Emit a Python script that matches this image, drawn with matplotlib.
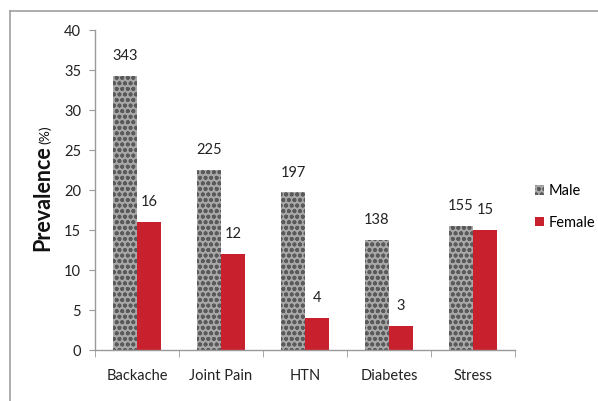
import matplotlib
matplotlib.use("Agg")
import matplotlib.pyplot as plt
import numpy as np
from matplotlib.lines import Line2D

categories = ["Backache", "Joint Pain", "HTN", "Diabetes", "Stress"]
male_pct = [34.3, 22.5, 19.7, 13.8, 15.5]
female_pct = [16, 12, 4, 3, 15]
male_labels = ["343", "225", "197", "138", "155"]
female_labels = ["16", "12", "4", "3", "15"]
yticks = [0, 5, 10, 15, 20, 25, 30, 35, 40]

plt.rcParams['font.family'] = ['Lato', 'DejaVu Sans']
plt.rcParams['hatch.linewidth'] = 1.2

fig = plt.figure(figsize=(5.98, 4.01), dpi=100)
ax = fig.add_axes([95/598, 1-350/401, 420/598, 320/401])

x = np.arange(len(categories))
w = 0.286
mb = ax.bar(x - w/2, male_pct, w, color='#a8a8a8', hatch='ooo', edgecolor='#5a5a5a', linewidth=0)
fb = ax.bar(x + w/2, female_pct, w, color='#c8202c', linewidth=0)

for xi, v, lab in zip(x - w/2, male_pct, male_labels):
    ax.annotate(lab, (xi, v), xytext=(0, 9), textcoords='offset points',
                ha='center', va='bottom', fontsize=10.5, color='#222222')
for xi, v, lab in zip(x + w/2, female_pct, female_labels):
    ax.annotate(lab, (xi, v), xytext=(0, 9), textcoords='offset points',
                ha='center', va='bottom', fontsize=10.5, color='#222222')

ax.set_xlim(-0.5, len(categories) - 0.5)
ax.set_ylim(0, 40)
ax.set_yticks(yticks)
ax.set_yticklabels([str(t) for t in yticks], fontsize=10.5, color='#222222')
ax.set_xticks(x)
ax.set_xticklabels(categories, fontsize=10.5, color='#222222')
ax.tick_params(axis='x', length=0, pad=14)
ax.tick_params(axis='y', length=4, color='#999999', pad=6)
ax.set_xticks(np.arange(-0.5, len(categories)), minor=True)
ax.tick_params(axis='x', which='minor', length=5, color='#999999')
for s in ['top', 'right']:
    ax.spines[s].set_visible(False)
for s in ['left', 'bottom']:
    ax.spines[s].set_color('#999999')
    ax.spines[s].set_linewidth(1.0)

t1 = fig.text(43/598, 1-251/401, "Prevalence", rotation=90, fontsize=15.5, fontweight='bold',
              ha='center', va='bottom', color='#111111')
fig.canvas.draw()
bb = t1.get_window_extent(fig.canvas.get_renderer())
top_px = bb.y1
fig.text(45/598, (top_px + 1)/fig.bbox.height, "(%)", rotation=90, fontsize=10,
         ha='center', va='bottom', color='#111111')

handles = [mb[0], fb[0]]
fig.legend(handles, ["Male", "Female"], loc='center left',
           bbox_to_anchor=(522/598, 1-207/401), frameon=False,
           fontsize=10.5, handlelength=0.6, handleheight=0.6,
           handletextpad=0.3, labelspacing=1.2)

fig.add_artist(Line2D([10/598, 10/598], [0, 1-11/401], transform=fig.transFigure,
                      color='#a0a0a0', linewidth=1.2))
fig.add_artist(Line2D([10/598, 1], [1-11/401, 1-11/401], transform=fig.transFigure,
                      color='#a0a0a0', linewidth=1.2))

fig.savefig("out.png", dpi=100)
